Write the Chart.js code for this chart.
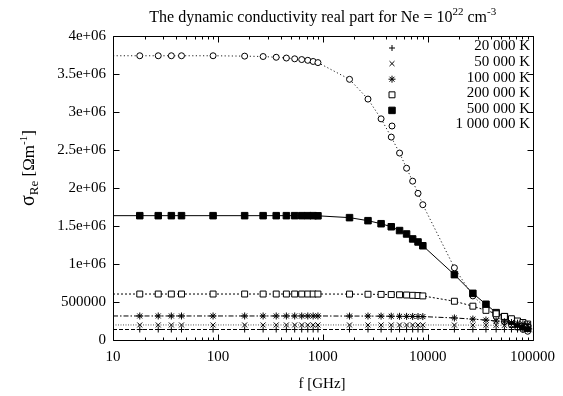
<!DOCTYPE html>
<html><head><meta charset="utf-8">
<script src="https://cdn.jsdelivr.net/npm/chart.js@4/dist/chart.umd.min.js"></script>
<style>html,body{margin:0;padding:0;background:#fff}#c{display:block}</style>
</head><body><canvas id="c" width="563" height="396"></canvas>
<script>
// ---- data ----
const freqs = [18,27,36,45,90,180,270,360,450,540,630,720,810,900,1800,2700,3600,4500,5400,6300,7200,8100,9000,18000,27000,36000,45000,54000,63000,72000,81000,90000];
const seriesLabels = ['20 000 K','50 000 K','100 000 K','200 000 K','500 000 K','1 000 000 K'];
const s20k  = [138000,138000,138000,138000,138000,138000,138000,138000,138000,138000,138000,138000,138000,138000,138000,138000,138000,138000,138000,138000,138000,138000,138000,138000,138000,138000,138000,138000,138000,137000,137000,137000];
const s50k  = [198000,198000,198000,198000,198000,198000,198000,198000,198000,198000,198000,198000,198000,198000,198000,198000,198000,198000,198000,198000,198000,198000,198000,197000,196000,195000,194000,193000,192000,190000,189000,188000];
const s100k = [316000,316000,316000,316000,316000,316000,316000,316000,316000,316000,316000,316000,316000,316000,315000,315000,314000,313000,312000,311000,310000,309000,308000,290000,275000,262000,250000,240000,230000,222000,214000,205000];
const s200k = [605000,605000,605000,605000,605000,605000,605000,605000,605000,605000,605000,605000,605000,605000,604000,602000,600000,598000,595000,592000,588000,585000,580000,510000,445000,390000,345000,310000,280000,250000,230000,210000];
const s500k = [1636000,1636000,1636000,1636000,1636000,1636000,1636000,1636000,1636000,1636000,1636000,1636000,1636000,1634000,1610000,1570000,1530000,1490000,1440000,1395000,1330000,1290000,1240000,860000,614000,470000,360000,307000,254000,210000,175000,154000];
const s1M   = [3740000,3740000,3740000,3740000,3740000,3735000,3730000,3720000,3710000,3700000,3690000,3680000,3665000,3650000,3430000,3170000,2910000,2670000,2460000,2260000,2090000,1930000,1780000,950000,580000,420000,310000,240000,200000,170000,140000,115000];
// line continuation values at the axis ends (f = 10 and f = 100000)
const lineStart = [138000,198000,316000,605000,1636000,3740000];
const lineEnd   = [137000,187000,200000,200000,145000,105000];
const xRange = [10,100000];
const xTicks = [10,100,1000,10000,100000];
const xTickLabels = ['10','100','1000','10000','100000'];
const yTickLabels = ['0','500000','1e+06','1.5e+06','2e+06','2.5e+06','3e+06','3.5e+06','4e+06'];
const yStep = 500000, yMax = 4000000;

// ---- styles ----
const allSeries = [s20k,s50k,s100k,s200k,s500k,s1M];
const dashes = [[4,2],[1,1.5],[5,2,1.5,2],[2,2],[],[1.2,2.4]];
const lineColors = ['#000','#555','#000','#000','#000','#222'];
const pStyles = ['cross','crossRot','star','rect','rect','circle'];
const pRadius = [3,3.5,3.5,4.2,4.6,3];
const pFill = ['#000','#000','#000','#fff','#000','#fff'];
const FONT = "'Liberation Serif', 'DejaVu Serif', serif";

const datasets = [];
allSeries.forEach((s,i)=>{
  const pts = [{x:xRange[0],y:lineStart[i]}].concat(freqs.map((f,k)=>({x:f,y:s[k]}))).concat([{x:xRange[1],y:lineEnd[i]}]);
  datasets.push({label:seriesLabels[i]+' line', data:pts, borderColor:lineColors[i], borderWidth:1, borderDash:dashes[i], pointRadius:0, tension:0, order:2, fill:false});
});
allSeries.forEach((s,i)=>{
  datasets.push({label:seriesLabels[i], data:freqs.map((f,k)=>({x:f,y:s[k]})), showLine:false, pointStyle:pStyles[i], pointRadius:pRadius[i], pointBorderWidth:1, pointBorderColor:'#000', pointBackgroundColor:pFill[i], order:1});
});

function txtSegs(ctx, segs, x, y, align){
  let w=0; segs.forEach(s=>{ctx.font=s[1]+'px '+FONT; w+=ctx.measureText(s[0]).width;});
  let cx = align==='center'? x-w/2 : x;
  segs.forEach(s=>{ctx.font=s[1]+'px '+FONT; ctx.fillText(s[0],cx,y+s[2]); cx+=ctx.measureText(s[0]).width;});
}

const deco = {
  id:'deco',
  afterDraw(chart){
    const ctx=chart.ctx, a=chart.chartArea, xs=chart.scales.x, ys=chart.scales.y;
    ctx.save();
    ctx.strokeStyle='#000'; ctx.lineWidth=1; ctx.setLineDash([]);
    ctx.beginPath();
    const L=Math.round(a.left)+0.5, R=Math.round(a.right)+0.5, T=Math.round(a.top)+0.5, B=Math.round(a.bottom)+0.5;
    ctx.rect(L,T,R-L,B-T);
    xTicks.forEach(v=>{const px=Math.round(xs.getPixelForValue(v))+0.5; ctx.moveTo(px,B); ctx.lineTo(px,B-6); ctx.moveTo(px,T); ctx.lineTo(px,T+6);});
    for(let d=10; d<100000; d*=10){ for(let m=2;m<10;m++){const px=Math.round(xs.getPixelForValue(d*m))+0.5; ctx.moveTo(px,B); ctx.lineTo(px,B-3); ctx.moveTo(px,T); ctx.lineTo(px,T+3);} }
    for(let v=0; v<=yMax; v+=yStep){const py=Math.round(ys.getPixelForValue(v))+0.5; ctx.moveTo(L,py); ctx.lineTo(L+6,py); ctx.moveTo(R,py); ctx.lineTo(R-6,py);}
    ctx.stroke();
    ctx.fillStyle='#000';
    ctx.textBaseline='alphabetic'; ctx.textAlign='left';
    txtSegs(ctx,[['The dynamic conductivity real part for Ne = 10',16,0],['22',11,-7],[' cm',16,0],['-3',11,-7]],(a.left+a.right)/2,22,'center');
    txtSegs(ctx,[['f [GHz]',15,0]],322,388,'center');
    ctx.save(); ctx.translate(34,168); ctx.rotate(-Math.PI/2);
    txtSegs(ctx,[['σ',20,0],['Re',13,4],[' [Ωm',17,0],['-1',11,-7],[']',17,0]],0,0,'center');
    ctx.restore();
    for(let i=0;i<6;i++){
      const y=48+15.6*i;
      ctx.fillStyle=pFill[i]; ctx.strokeStyle='#000'; ctx.lineWidth=1;
      Chart.helpers.drawPoint(ctx,{pointStyle:pStyles[i],radius:pRadius[i],rotation:0,borderWidth:1},392,y);
      ctx.fillStyle='#000'; ctx.font='15px '+FONT; ctx.textAlign='right'; ctx.textBaseline='middle';
      ctx.fillText(seriesLabels[i],530,y-1.5);
    }
    ctx.restore();
  }
};

new Chart(document.getElementById('c'),{
  type:'line',
  data:{datasets},
  options:{
    responsive:false, animation:false, devicePixelRatio:1,
    layout:{padding:{left:0,right:25,top:36,bottom:0}},
    plugins:{legend:{display:false},tooltip:{enabled:false},title:{display:false}},
    scales:{
      x:{type:'logarithmic',min:xRange[0],max:xRange[1],
         afterBuildTicks:s=>{s.ticks=xTicks.map(v=>({value:v}));},
         afterFit:s=>{s.height=56;},
         grid:{display:false,drawTicks:false}, border:{display:false},
         ticks:{autoSkip:false,maxRotation:0,padding:8,color:'#000',font:{family:FONT,size:15},
                callback:(v)=>{const k=xTicks.indexOf(v); return k>=0?xTickLabels[k]:'';}}},
      y:{type:'linear',min:0,max:yMax,
         afterFit:s=>{s.width=113;},
         grid:{display:false,drawTicks:false}, border:{display:false},
         ticks:{stepSize:yStep,padding:7,color:'#000',font:{family:FONT,size:15},
                callback:(v)=>yTickLabels[Math.round(v/yStep)]}}
    }
  },
  plugins:[deco]
});
</script></body></html>
